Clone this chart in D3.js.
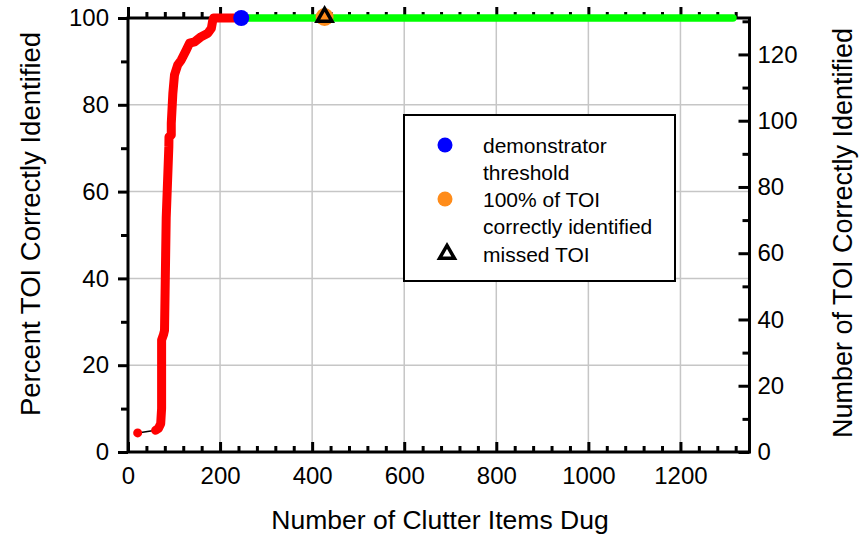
<!DOCTYPE html>
<html>
<head>
<meta charset="utf-8">
<script src="https://cdn.jsdelivr.net/npm/d3@7"></script>
<style>
  html, body { margin: 0; padding: 0; background: #fff; }
  svg { display: block; font-family: "Liberation Sans", Arial, sans-serif; }
</style>
</head>
<body>
<svg id="chart" width="860" height="539"></svg>
<script>
// Cumulative TOI found while digging, below the demonstrator threshold
const curveClutter = [21, 60, 66, 71, 73, 73, 77, 79.3, 83, 88.7, 89, 94, 94, 97.4, 101, 108, 115.6, 126.5, 133.7, 144.6, 159, 173.5, 181, 184, 186, 246];
const curvePercent = [4.4, 5.0, 5.4, 6.5, 10, 25.8, 27, 28, 54, 70.3, 72.6, 73, 75.7, 82.6, 86.9, 89.2, 90.3, 92.6, 94.2, 94.5, 95.7, 96.5, 97.6, 99.4, 100, 100];
// Digging continued past the threshold
const afterClutter = [246, 1314];
const afterPercent = [100, 100];
// Marked events
const thresholdPoint = { clutter: 246, percent: 100 };
const allFoundPoint = { clutter: 427, percent: 100 };
const missedPoint = { clutter: 427, percent: 100 };

const xMajor = [0, 200, 400, 600, 800, 1000, 1200];
const xMinor = d3.range(40, 1350, 40).filter(v => v % 200 !== 0);
const pctMajor = [0, 20, 40, 60, 80, 100];
const pctMinor = [10, 30, 50, 70, 90];
const numMajor = [0, 20, 40, 60, 80, 100, 120];
const numMinor = [10, 30, 50, 70, 90, 110, 130];
const legendLabels = [["demonstrator", "threshold"], ["100% of TOI", "correctly identified"], ["missed TOI"]];

const svg = d3.select("#chart");
const L = 128, R = 749.5, T = 18, B = 452;
const x = d3.scaleLinear().domain([0, 1350]).range([L, R]);
const yPct = d3.scaleLinear().domain([0, 100]).range([B, T]);
const yNum = d3.scaleLinear().domain([0, 131]).range([B, T]);

// grid
const grid = svg.append("g").attr("stroke", "#c6c6c6").attr("stroke-width", 1.5);
grid.selectAll(".gv").data(xMajor.filter(v => v > 0)).join("line")
  .attr("x1", d => x(d)).attr("x2", d => x(d)).attr("y1", T).attr("y2", B);
grid.selectAll(".gh").data(pctMajor.filter(v => v > 0 && v < 100)).join("line")
  .attr("x1", L).attr("x2", R).attr("y1", d => yPct(d)).attr("y2", d => yPct(d));

function styleAxis(g, size) {
  g.select(".domain").remove();
  g.selectAll(".tick line").attr("stroke", "#000").attr("stroke-width", 3);
  g.selectAll(".tick text").attr("fill", "#000").style("font-size", size + "px")
    .style("font-family", '"Liberation Sans", Arial, sans-serif');
}

// bottom axis, ticks point up into the plot
svg.append("g").attr("transform", `translate(0,${B})`)
  .call(d3.axisBottom(x).tickValues(xMajor).tickSize(-10).tickPadding(15).tickFormat(d3.format("d")))
  .call(g => styleAxis(g, 24));
svg.append("g").attr("transform", `translate(0,${B})`)
  .call(d3.axisBottom(x).tickValues(xMinor).tickSize(-6).tickFormat(""))
  .call(g => styleAxis(g, 24));
// top axis, ticks point outward
svg.append("g").attr("transform", `translate(0,${T})`)
  .call(d3.axisTop(x).tickValues(xMajor).tickSize(11).tickFormat(""))
  .call(g => styleAxis(g, 24));
svg.append("g").attr("transform", `translate(0,${T})`)
  .call(d3.axisTop(x).tickValues(xMinor).tickSize(6).tickFormat(""))
  .call(g => styleAxis(g, 24));
// left axis (percent)
svg.append("g").attr("transform", `translate(${L},0)`)
  .call(d3.axisLeft(yPct).tickValues(pctMajor).tickSize(10).tickPadding(9))
  .call(g => styleAxis(g, 24));
svg.append("g").attr("transform", `translate(${L},0)`)
  .call(d3.axisLeft(yPct).tickValues(pctMinor).tickSize(7).tickFormat(""))
  .call(g => styleAxis(g, 24));
// right axis (count), ticks point inward
svg.append("g").attr("transform", `translate(${R},0)`)
  .call(d3.axisRight(yNum).tickValues(numMajor).tickSize(-11).tickPadding(8))
  .call(g => styleAxis(g, 24));
svg.append("g").attr("transform", `translate(${R},0)`)
  .call(d3.axisRight(yNum).tickValues(numMinor).tickSize(-7).tickFormat(""))
  .call(g => styleAxis(g, 24));

// frame
svg.append("rect").attr("x", L).attr("y", T).attr("width", R - L).attr("height", B - T)
  .attr("fill", "none").attr("stroke", "#000").attr("stroke-width", 3);

// axis titles
svg.append("text").attr("x", 440).attr("y", 529).attr("text-anchor", "middle")
  .style("font-size", "26.5px").text("Number of Clutter Items Dug");
svg.append("text").attr("transform", "translate(40,224) rotate(-90)").attr("text-anchor", "middle")
  .style("font-size", "27.5px").text("Percent TOI Correctly Identified");
svg.append("text").attr("transform", "translate(852,233) rotate(-90)").attr("text-anchor", "middle")
  .style("font-size", "27px").text("Number of TOI Correctly Identified");

// data
const pts = curveClutter.map((c, i) => [c, curvePercent[i]]);
const line = d3.line().x(d => x(d[0])).y(d => yPct(d[1]));
svg.append("path").attr("d", line(pts)).attr("fill", "none").attr("stroke", "#000").attr("stroke-width", 1.5);
svg.append("path").attr("d", line(pts.slice(1))).attr("fill", "none").attr("stroke", "#ff0000")
  .attr("stroke-width", 9).attr("stroke-linejoin", "round").attr("stroke-linecap", "round");
svg.append("circle").attr("cx", x(pts[0][0])).attr("cy", yPct(pts[0][1])).attr("r", 4.5).attr("fill", "#ff0000");

const after = afterClutter.map((c, i) => [c, afterPercent[i]]);
svg.append("path").attr("d", line(after)).attr("fill", "none").attr("stroke", "#00ff00")
  .attr("stroke-width", 7.5).attr("stroke-linecap", "round");

svg.append("circle").attr("cx", x(thresholdPoint.clutter)).attr("cy", yPct(thresholdPoint.percent))
  .attr("r", 8).attr("fill", "#0000ff");
svg.append("circle").attr("cx", x(allFoundPoint.clutter)).attr("cy", yPct(allFoundPoint.percent) - 1)
  .attr("r", 9).attr("fill", "#ff8c1a");
const tri = d3.symbol().type(d3.symbolTriangle).size(95);
svg.append("path").attr("d", tri())
  .attr("transform", `translate(${x(missedPoint.clutter)},${yPct(missedPoint.percent) - 1})`)
  .attr("fill", "none").attr("stroke", "#000").attr("stroke-width", 3.5).attr("stroke-linejoin", "miter");

// legend
const lg = svg.append("g");
lg.append("rect").attr("x", 404).attr("y", 115).attr("width", 271).attr("height", 166)
  .attr("fill", "#fff").attr("stroke", "#000").attr("stroke-width", 2);
lg.append("circle").attr("cx", 445).attr("cy", 145).attr("r", 7.5).attr("fill", "#0000ff");
lg.append("circle").attr("cx", 445).attr("cy", 199).attr("r", 7.5).attr("fill", "#ff8c1a");
lg.append("path").attr("d", tri()).attr("transform", "translate(447,254)")
  .attr("fill", "none").attr("stroke", "#000").attr("stroke-width", 3.5);
const baselines = [[153, 180], [207, 233.5], [261.5]];
legendLabels.forEach((lines, i) => {
  lines.forEach((t, j) => {
    lg.append("text").attr("x", 483).attr("y", baselines[i][j]).style("font-size", "21px").text(t);
  });
});
</script>
</body>
</html>
